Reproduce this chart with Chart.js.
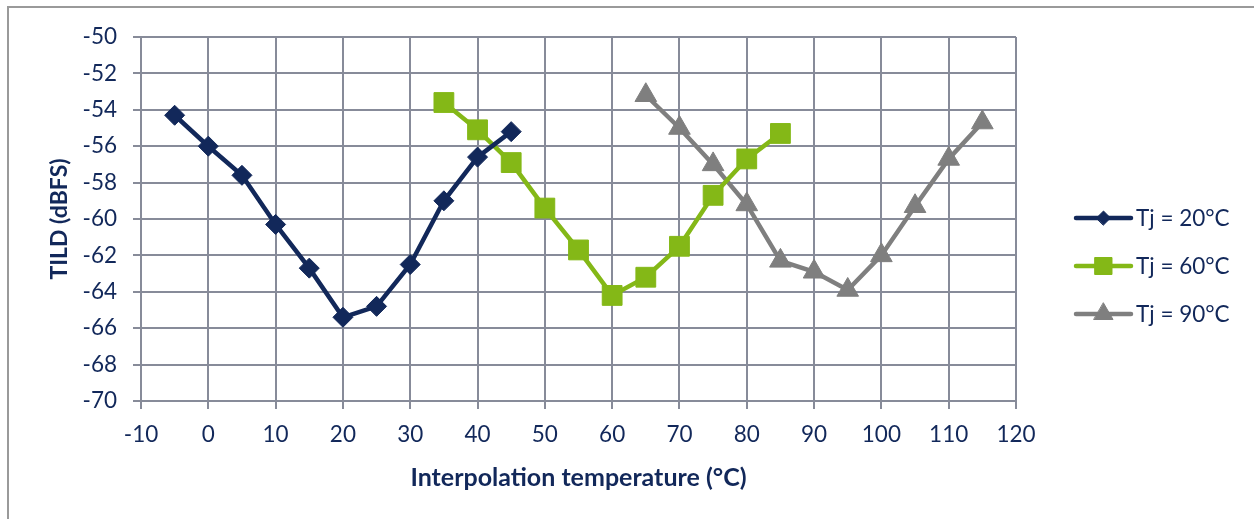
<!DOCTYPE html>
<html><head><meta charset="utf-8">
<script src="https://cdn.jsdelivr.net/npm/chart.js@4/dist/chart.umd.min.js"></script>
<style>
html,body{margin:0;padding:0;background:#fff;}
#wrap{position:relative;width:1254px;height:519px;overflow:hidden;background:#fff;}
#frame{position:absolute;left:7px;top:6px;width:1400px;height:700px;border:2px solid #9a9a9a;box-sizing:border-box;}
#c{position:absolute;left:0;top:0;}
</style></head>
<body><div id="wrap"><div id="frame"></div><canvas id="c" width="1254" height="519"></canvas></div>
<script>
// ---- data ----
const seriesLabels = ['Tj = 20°C', 'Tj = 60°C', 'Tj = 90°C'];
const temps20 = [-5, 0, 5, 10, 15, 20, 25, 30, 35, 40, 45];
const tild20  = [-54.3, -56.0, -57.6, -60.3, -62.7, -65.4, -64.8, -62.5, -59.0, -56.6, -55.2];
const temps60 = [35, 40, 45, 50, 55, 60, 65, 70, 75, 80, 85];
const tild60  = [-53.6, -55.1, -56.9, -59.4, -61.7, -64.2, -63.2, -61.5, -58.7, -56.7, -55.3];
const temps90 = [65, 70, 75, 80, 85, 90, 95, 100, 105, 110, 115];
const tild90  = [-53.2, -55.0, -57.0, -59.2, -62.3, -62.9, -63.9, -62.0, -59.3, -56.7, -54.7];
const xTitle = 'Interpolation temperature (°C)';
const yTitle = 'TILD (dBFS)';

const NAVY = '#12285a', GREEN = '#84b817', GREY = '#7f7f7f', GRID = '#878b99';
const FONT = 'Lato';

function pts(xs, ys){ return xs.map((x,i)=>({x:x, y:ys[i]})); }

const legendPlugin = {
  id: 'sideLegend',
  afterDraw(chart){
    const ctx = chart.ctx;
    const x0 = 1076, x1 = 1131, ys = [218, 266, 314];
    const legendRadius = [7, 12, 11];
    chart.data.datasets.forEach((ds, i) => {
      const y = ys[i];
      ctx.save();
      ctx.strokeStyle = ds.borderColor;
      ctx.lineWidth = 4.5;
      ctx.lineCap = 'round';
      ctx.beginPath(); ctx.moveTo(x0, y); ctx.lineTo(x1, y); ctx.stroke();
      ctx.fillStyle = ds.pointBackgroundColor;
      ctx.strokeStyle = ds.borderColor;
      ctx.lineWidth = 1;
      Chart.helpers.drawPoint(ctx, {pointStyle: ds.pointStyle, radius: legendRadius[i], borderWidth: 1, rotation: 0}, (x0+x1)/2, y);
      ctx.fillStyle = NAVY;
      ctx.font = '22.5px ' + FONT;
      ctx.textAlign = 'left';
      ctx.textBaseline = 'middle';
      ctx.fillText(ds.label, 1136, y + 1);
      ctx.restore();
    });
  }
};

function build(){
  new Chart(document.getElementById('c'), {
    type: 'line',
    data: {
      datasets: [
        {label: seriesLabels[0], data: pts(temps20, tild20), borderColor: NAVY, backgroundColor: NAVY,
         pointBackgroundColor: NAVY, pointBorderColor: NAVY, pointStyle: 'rectRot', pointRadius: 10, pointBorderWidth: 1, borderWidth: 4.5, tension: 0},
        {label: seriesLabels[1], data: pts(temps60, tild60), borderColor: GREEN, backgroundColor: GREEN,
         pointBackgroundColor: GREEN, pointBorderColor: GREEN, pointStyle: 'rect', pointRadius: 14, pointBorderWidth: 1, borderWidth: 4.5, tension: 0},
        {label: seriesLabels[2], data: pts(temps90, tild90), borderColor: GREY, backgroundColor: GREY,
         pointBackgroundColor: GREY, pointBorderColor: GREY, pointStyle: 'triangle', pointRadius: 12.5, pointBorderWidth: 1, borderWidth: 4.5, tension: 0}
      ]
    },
    options: {
      responsive: false,
      animation: false,
      devicePixelRatio: 1,
      layout: {padding: {left: 0, top: 37, right: 238, bottom: 0}},
      plugins: {legend: {display: false}, tooltip: {enabled: false}},
      scales: {
        x: {
          type: 'linear', min: -10, max: 120,
          ticks: {stepSize: 10, color: NAVY, font: {family: FONT, size: 22.5}, padding: 12, maxRotation: 0},
          grid: {color: GRID, lineWidth: 2, tickLength: 8},
          border: {color: GRID, width: 2},
          title: {display: true, text: xTitle, color: NAVY, font: {family: FONT, size: 25, weight: 'bold'}, padding: {top: 0, bottom: 26}},
          afterFit: s => { s.height = 118; }
        },
        y: {
          min: -70, max: -50,
          ticks: {stepSize: 2, color: NAVY, font: {family: FONT, size: 22.5}, padding: 16},
          grid: {color: GRID, lineWidth: 2, tickLength: 8},
          border: {color: GRID, width: 2},
          title: {display: true, text: yTitle, color: NAVY, font: {family: FONT, size: 23, weight: 'bold'}, padding: {top: 46, bottom: 0}},
          afterFit: s => { s.width = 141; }
        }
      }
    },
    plugins: [legendPlugin]
  });
}

Promise.all([
  document.fonts.load('22.5px ' + FONT),
  document.fonts.load('bold 25px ' + FONT)
]).then(build, build);
</script>
</body></html>
